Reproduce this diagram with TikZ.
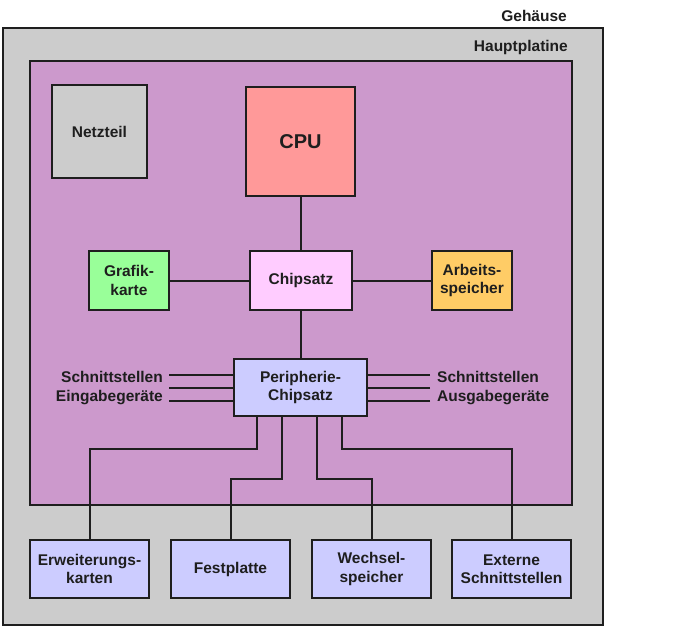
\documentclass[tikz,border=0pt]{standalone}
\usepackage{fontspec}
\setmainfont{Liberation Sans}
\usetikzlibrary{calc}
\definecolor{caseg}{HTML}{CCCCCC}
\definecolor{boardc}{HTML}{CC99CC}
\definecolor{cpuc}{HTML}{FF9999}
\definecolor{chipc}{HTML}{FFCCFF}
\definecolor{grafc}{HTML}{99FF99}
\definecolor{ramc}{HTML}{FFCC66}
\definecolor{perc}{HTML}{CCCCFF}
\definecolor{inkc}{HTML}{1E1E1E}
\begin{document}
\begin{tikzpicture}[x=1pt,y=-1pt,
  every node/.style={font=\bfseries\fontsize{15.5}{18.5}\selectfont, text=inkc},
  box/.style={draw=inkc, line width=2pt, inner sep=0pt, align=center},
  wire/.style={draw=inkc, line width=2pt},
  lbl/.style={inner sep=0pt}]
\useasboundingbox (0,0) rectangle (688,632);
% case and board
\draw[fill=caseg, draw=inkc, line width=2pt] (3,28) rectangle (603,625);
\draw[fill=boardc, draw=inkc, line width=2pt] (30,61) rectangle (572,505);
\node[lbl, anchor=east] (geh) at (567,16) {Gehäuse};
\node[lbl, anchor=east] (hp) at (568,47) {Hauptplatine};
% nodes
\node[box, fill=caseg, minimum width=95pt, minimum height=93pt] (net) at (99.5,131.5) {Netzteil};
\node[box, fill=cpuc, minimum width=109pt, minimum height=109pt, font=\bfseries\fontsize{20}{24}\selectfont] (cpu) at (300.5,141.5) {CPU};
\node[box, fill=chipc, minimum width=102pt, minimum height=59pt] (chip) at (301,280.5) {Chipsatz};
\node[box, fill=grafc, minimum width=80pt, minimum height=59pt] (graf) at (129,280.5) {Grafik-\\karte};
\node[box, fill=ramc, minimum width=80pt, minimum height=59pt] (ram) at (472,280.5) {Arbeits-\\speicher};
\node[box, fill=perc, minimum width=133pt, minimum height=57pt] (per) at (300.5,387.5) {Peripherie-\\Chipsatz};
\node[box, fill=perc, minimum width=119pt, minimum height=58pt] (erw) at (89.5,569) {Erweiterungs-\\karten};
\node[box, fill=perc, minimum width=119pt, minimum height=58pt] (fest) at (230.5,569) {Festplatte};
\node[box, fill=perc, minimum width=119pt, minimum height=58pt] (wech) at (371.5,569) {Wechsel-\\speicher};
\node[box, fill=perc, minimum width=119pt, minimum height=58pt] (ext) at (511.5,569) {Externe\\Schnittstellen};
% labels
\node[lbl, anchor=east, align=right] (inl) at (163,388) {Schnittstellen\\Eingabegeräte};
\node[lbl, anchor=west, align=left] (outl) at (437,388) {Schnittstellen\\Ausgabegeräte};
% connectors
\draw[wire] (cpu.south) -- (cpu.south |- chip.north);
\draw[wire] (graf.east) -- (chip.west);
\draw[wire] (chip.east) -- (ram.west);
\draw[wire] (chip.south -| per.north) -- (per.north);
\coordinate (l1) at (169,375);
\coordinate (l2) at (169,388);
\coordinate (l3) at (169,401);
\coordinate (r1) at (430,375);
\coordinate (r2) at (430,388);
\coordinate (r3) at (430,401);
\draw[wire] (l1) -- (l1 -| per.west);
\draw[wire] (l2) -- (l2 -| per.west);
\draw[wire] (l3) -- (l3 -| per.west);
\draw[wire] (r1) -- (r1 -| per.east);
\draw[wire] (r2) -- (r2 -| per.east);
\draw[wire] (r3) -- (r3 -| per.east);
\coordinate (h1) at (0,449);
\coordinate (h2) at (0,479);
\draw[wire] ([xshift=24pt]per.south west) -- ([xshift=24pt]per.south west |- h1) -| (erw.north);
\draw[wire] ([xshift=49pt]per.south west) -- ([xshift=49pt]per.south west |- h2) -| (fest.north);
\draw[wire] ([xshift=84pt]per.south west) -- ([xshift=84pt]per.south west |- h2) -| (wech.north);
\draw[wire] ([xshift=109pt]per.south west) -- ([xshift=109pt]per.south west |- h1) -| (ext.north);
\end{tikzpicture}
\end{document}
